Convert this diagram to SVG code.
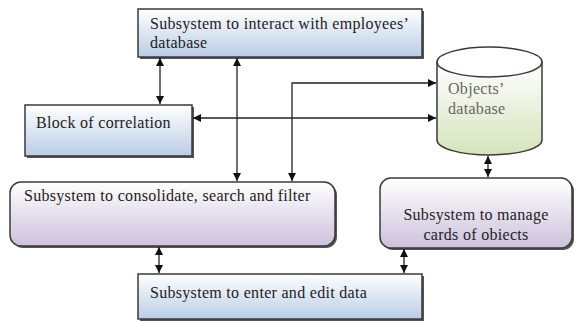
<svg xmlns="http://www.w3.org/2000/svg" width="576" height="321" viewBox="0 0 576 321">
<defs>
<linearGradient id="gBlue" x1="0" y1="0" x2="0" y2="1"><stop offset="0" stop-color="#ffffff"/><stop offset="1" stop-color="#b9cde5"/></linearGradient>
<linearGradient id="gPurple" x1="0" y1="0" x2="0" y2="1"><stop offset="0" stop-color="#ffffff"/><stop offset="1" stop-color="#cdc1dc"/></linearGradient>
<linearGradient id="gGreen" x1="0" y1="0" x2="0" y2="1"><stop offset="0" stop-color="#ffffff"/><stop offset="1" stop-color="#d5e3bb"/></linearGradient>
<marker id="ah" viewBox="0 0 10 10" refX="10" refY="5" markerWidth="8" markerHeight="8" markerUnits="userSpaceOnUse" orient="auto-start-reverse"><path d="M0,0 L10,5 L0,10 z" fill="#111"/></marker>
<style>
.box{stroke:#3a3a3a;stroke-width:1.5}
.sh{fill:#555}
.t{font-size:16px;letter-spacing:0.3px;fill:#222}
.c{fill:none;stroke:#222;stroke-width:1.3;marker-end:url(#ah);marker-start:url(#ah)}
</style>
</defs>
<g font-family="'Liberation Serif', 'DejaVu Serif', 'Times New Roman', serif">
<g id="employees">
<rect class="sh" x="140" y="11" width="284" height="48"/>
<rect class="box" x="138" y="9" width="284" height="48" fill="url(#gBlue)"/>
<text class="t" x="150" y="29">Subsystem to interact with employees’</text>
<text class="t" x="150" y="48">database</text>
</g>
<g id="correlation">
<rect class="sh" x="27" y="107" width="167" height="51"/>
<rect class="box" x="25" y="105" width="167" height="51" fill="url(#gBlue)"/>
<text class="t" x="36" y="128">Block of correlation</text>
</g>
<g id="objects-db">
<path class="box" d="M437,62 L437,140 A52.5,15 0 0 0 542,140 L542,62 Z" fill="url(#gGreen)"/>
<ellipse class="box" cx="489.5" cy="62" rx="52.5" ry="15" fill="#ffffff"/>
<text class="t" x="448" y="94" style="fill:#666">Objects’</text>
<text class="t" x="448" y="114" style="fill:#666">database</text>
</g>
<g id="consolidate">
<rect class="sh" x="12" y="184" width="325" height="64" rx="11"/>
<rect class="box" x="10" y="182" width="325" height="64" rx="11" fill="url(#gPurple)"/>
<text class="t" x="24" y="201">Subsystem to consolidate, search and filter</text>
</g>
<g id="manage">
<rect class="sh" x="382" y="180" width="192" height="70" rx="11"/>
<rect class="box" x="380" y="178" width="192" height="70" rx="11" fill="url(#gPurple)"/>
<text class="t" x="476" y="220" text-anchor="middle">Subsystem to manage</text>
<text class="t" x="476" y="240" text-anchor="middle">cards of obiects</text>
</g>
<g id="enter">
<rect class="sh" x="140" y="276" width="284" height="45"/>
<rect class="box" x="138" y="274" width="284" height="45" fill="url(#gBlue)"/>
<text class="t" x="150" y="298">Subsystem to enter and edit data</text>
</g>
</g>
<g id="connectors">
<path class="c" d="M160,58 L160,104"/>
<path class="c" d="M237,58 L237,181"/>
<path class="c" d="M193,118 L436,118"/>
<path class="c" d="M436,83 L292,83 L292,181"/>
<path class="c" d="M488,156 L488,177"/>
<path class="c" d="M159,247 L159,273"/>
<path class="c" d="M404,249 L404,273"/>
</g>
</svg>
